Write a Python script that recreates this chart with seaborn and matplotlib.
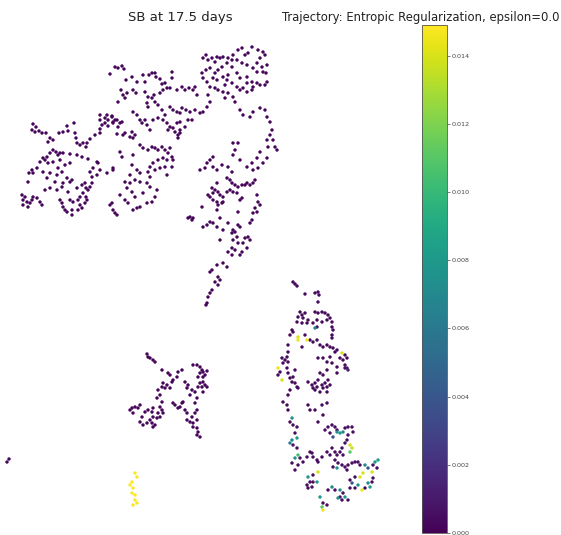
import matplotlib
matplotlib.use("Agg")
import matplotlib.pyplot as plt
import seaborn as sns
import pandas as pd
import numpy as np
from matplotlib.colors import Normalize
from matplotlib.cm import ScalarMappable

sns.set_style("white")
plt.rcParams['font.family'] = ['DejaVu Sans']

TITLE = "SB at 17.5 days"
CBAR_TITLE = "Trajectory: Entropic Regularization, epsilon=0.0"
CBAR_TICKS = [0.000, 0.002, 0.004, 0.006, 0.008, 0.010, 0.012, 0.014]
VMIN, VMAX = 0.0, 0.0149

# embedding coordinates (image-pixel units, y downward)
upper_left_xy = [
    (33,124),(36,127),(32,130),(35,132),(39,131),(42,133),(46,133),(50,138),(48,142),(53,140),
    (59,133),(63,132),(67,126),(68,131),(74,123),(75,133),(76,138),(77,143),(80,145),(83,143),
    (86,147),(87,143),(90,139),(95,135),(100,133),(100,129),(102,125),(105,123),(108,126),(113,123),
    (115,120),(112,116),(107,115),(100,115),(118,127),(122,122),(117,134),(125,133),
    (53,150),(50,153),(56,152),(58,155),(60,153),(63,153),(70,154),(77,155),(82,157),(88,159),(98,163),
    (40,162),(43,158),(45,160),(47,157),(48,163),(53,162),(60,160),(65,165),(70,163),(58,168),
    (62,172),(57,175),(50,173),(43,172),(37,168),(32,170),(29,173),(33,173),(28,182),
    (67,178),(70,182),(72,180),(63,183),(55,182),(47,178),(45,190),(50,188),(57,190),(62,187),
    (68,192),(77,188),(82,185),(85,183),(86,188),(88,190),(90,187),(92,183),(83,193),(80,197),
    (90,172),(93,168),(92,177),(97,175),(100,170),(113,170),(97,162),
    (22,195),(25,197),(23,200),(27,202),(23,205),(28,207),(30,203),(32,200),(33,197),(37,198),
    (40,202),(42,205),(60,200),(62,203),(63,207),(65,210),(67,212),(72,215),(70,200),(73,202),
    (78,200),(80,205),(78,210),(82,208),(72,210),(86,197),(87,200),(85,203),
]

upper_mid_xy = [
    (115,67),(118,68),(122,66),(124,69),(110,74),
    (126,80),(132,77),(137,82),(143,75),(145,82),(149,75),(152,73),(155,73),(156,77),(160,79),
    (162,84),(165,83),(167,88),(172,72),(172,78),
    (121,90),(123,95),(125,98),(127,93),(118,102),
    (133,90),(136,93),(145,92),(148,97),(152,98),(154,95),(160,93),(163,90),(170,88),(177,90),
    (182,87),(185,90),(189,88),(193,90),(197,95),(195,87),
    (147,103),(148,107),(155,102),(158,105),(162,110),(165,115),(170,107),(173,110),(177,112),
    (180,113),(182,108),(186,110),(190,112),(195,110),(200,113),(203,112),(207,107),(210,102),(208,95),
    (133,112),(137,115),(140,120),(142,123),(145,120),(147,125),(150,130),(153,120),(158,118),
    (163,120),(167,123),(170,127),(173,128),(177,123),(180,122),(185,127),(188,120),(192,120),
    (180,130),(175,132),(168,130),
    (100,120),(105,118),(108,120),(112,117),(113,122),(117,120),(120,123),
    (123,135),(130,137),(133,138),(135,135),(132,132),(140,145),(143,148),(148,150),(152,147),
    (155,148),(158,150),(162,147),(165,150),(168,153),(170,148),(172,157),(167,160),(163,158),
    (158,160),(153,163),(150,167),(155,170),(160,168),(165,167),(172,167),(173,160),(178,135),
    (178,138),(180,133),
    (120,152),(122,157),(133,155),(132,165),(137,170),(113,168),(107,173),(130,175),(140,173),
    (150,177),(167,175),(148,172),
    (110,205),(113,210),(115,213),(120,195),(125,200),(128,203),(133,210),(137,208),(140,207),
    (147,203),(152,202),(155,197),(157,190),(150,187),(147,183),(143,193),(135,197),(132,192),
    (127,188),(130,183),(135,180),(140,182),(125,182),(112,203),(117,215),
]

upper_right_xy = [
    (203,58),(206,55),(208,60),(212,58),(215,62),(217,57),(220,58),(223,57),(228,58),(232,60),
    (233,55),(238,50),(242,48),(245,55),(248,53),(252,47),(258,50),(263,52),(265,55),(260,58),
    (257,63),(262,67),(267,65),(266,73),(263,72),(257,72),(253,68),(247,65),(242,63),(237,60),
    (232,67),(227,63),(222,67),(218,70),(215,73),(210,68),(206,70),(202,73),(203,78),(207,82),
    (213,78),(217,80),(223,77),(228,75),(227,80),(225,85),(232,83),(237,87),(240,90),(243,88),
    (247,92),(252,90),(253,87),(257,83),(260,85),(265,85),(267,82),(237,73),(240,78),(247,77),
    (252,82),(247,83),(210,87),(215,88),(218,90),(223,92),(228,93),(233,97),(235,102),(225,98),
    (240,110),(243,115),(250,117),(253,112),(260,108),(265,110),(267,117),(270,122),(272,130),
    (270,135),(273,140),(275,147),(277,150),(268,147),(267,140),(260,152),(257,158),(252,163),
    (253,170),(258,168),(263,163),(267,158),(247,167),(238,143),(233,143),(235,150),(233,155),
    (240,160),(213,157),(210,160),(207,163),(205,168),(200,170),(213,167),(217,170),(222,165),
    (228,167),(232,172),
    (227,178),(230,180),(232,183),(235,185),(238,187),(242,185),(245,185),(247,183),(250,185),
    (253,183),(255,180),(217,183),(212,188),(208,195),(210,197),(213,193),(215,190),(218,192),
    (220,195),(223,197),(227,192),(230,190),(233,192),(237,193),(242,198),(240,200),(202,207),
    (213,200),(217,202),(218,205),(222,203),(223,202),(217,210),(257,195),(258,202),(260,205),
    (255,208),(257,212),(253,213),(252,220),(250,223),(238,212),(190,217),(192,220),(188,218),
    (193,218),(203,227),(207,225),(210,222),(213,223),(217,227),(220,218),(223,230),(228,223),
    (233,230),(232,233),(235,232),(237,237),(238,225),(240,227),(233,240),(238,243),(243,243),
    (245,238),(248,237),(250,240),(247,248),(242,252),(240,255),(235,250),(232,248),(228,252),
    (232,255),(220,240),(217,265),(223,263),(227,267),(212,270),(210,272),(218,277),(220,280),
    (215,282),(218,285),(212,290),(210,293),(208,297),(207,303),(206,305),
]

lower_left_xy = [
    (147,354),(148,357),(150,358),(153,360),(155,362),(162,370),(168,373),(170,375),(182,370),
    (178,372),(177,377),(173,380),(163,383),(162,387),(165,388),(167,385),(170,388),(172,382),
    (160,395),(158,390),(157,398),(162,402),(160,407),(162,410),(163,413),(158,413),(153,408),
    (152,412),(148,410),(145,412),(140,405),(138,408),(135,407),(132,408),(130,410),(133,413),
    (142,417),(140,422),(143,425),(147,423),(152,423),(153,427),(155,425),(150,420),(153,417),
    (157,418),(160,417),(173,403),(175,405),(180,407),(178,408),(182,403),(183,402),(185,410),
    (187,413),(187,420),(190,422),(193,423),(197,420),(193,427),(197,428),(198,432),(197,435),
    (200,437),(192,417),(195,413),(197,410),(195,403),(197,398),(195,392),(192,390),(190,395),
    (187,388),(185,382),(188,385),(193,365),(197,365),(200,367),(202,370),(200,373),(198,377),
    (203,372),(205,375),(207,371),(203,382),(205,385),(207,387),(202,387),(198,387),(200,383),
    (203,392),(203,377),
]

isolated_xy = [(7,462),(9,459)]
UNIFORM_LOW_VALUE = 0.0002

yellow_group_xy = [(135,473),(137,477),(132,482),(130,485),(133,488),(132,493),(135,495),
                   (135,500),(137,503),(133,505)]
YELLOW_GROUP_VALUE = 0.0148

# mixed cluster: (x, y, value)
lower_right_xyv = [
    (293,282,0.0004),(295,284,0.0004),(297,286,0.0004),(305,294,0.0004),(315,293,0.0004),
    (318,292,0.0004),(319,295,0.0004),(318,302,0.0004),(300,312,0.0004),(302,315,0.0004),
    (305,313,0.0004),(298,317,0.0004),(303,318,0.0004),(308,320,0.0004),(307,323,0.0004),
    (302,323,0.0004),(297,322,0.0004),(315,312,0.0004),(318,313,0.0004),(322,312,0.0004),
    (325,313,0.0004),(328,315,0.0004),(330,318,0.0004),(332,322,0.0004),(327,320,0.0004),
    (322,322,0.0004),(317,320,0.0004),(313,323,0.0005),(315,328,0.0070),(317,327,0.0005),
    (332,327,0.0004),(333,330,0.0004),(332,335,0.0004),(332,338,0.0004),(292,330,0.0004),
    (290,335,0.0004),(293,332,0.0004),(298,337,0.0140),(305,335,0.0005),(307,340,0.0145),
    (310,340,0.0005),(313,342,0.0004),(317,340,0.0004),(298,340,0.0145),(288,345,0.0004),
    (302,347,0.0005),(320,345,0.0004),(323,347,0.0004),(327,345,0.0004),(330,347,0.0004),
    (333,348,0.0004),(335,352,0.0004),(337,350,0.0004),(342,353,0.0140),(345,355,0.0004),
    (340,358,0.0004),(343,360,0.0004),(347,358,0.0004),(345,365,0.0005),(347,368,0.0010),
    (348,370,0.0015),(345,368,0.0004),(337,367,0.0004),(337,373,0.0004),(330,357,0.0004),
    (327,362,0.0004),(323,358,0.0004),(318,358,0.0004),(332,363,0.0004),(327,370,0.0004),
    (320,373,0.0004),(323,375,0.0004),(288,352,0.0004),(287,357,0.0005),(285,360,0.0004),
    (288,362,0.0004),(282,358,0.0004),(283,363,0.0004),(278,368,0.0145),(280,372,0.0004),
    (278,375,0.0004),(282,380,0.0140),(287,368,0.0004),(288,373,0.0004),(290,378,0.0004),
    (293,377,0.0004),(292,382,0.0004),(295,383,0.0004),(297,387,0.0004),(298,388,0.0004),
    (290,390,0.0004),(295,370,0.0004),(308,382,0.0004),(312,385,0.0004),(313,388,0.0004),
    (315,383,0.0004),(317,387,0.0004),(318,380,0.0004),(322,385,0.0004),(323,388,0.0004),
    (325,383,0.0004),(327,387,0.0004),(328,380,0.0004),(330,385,0.0004),(327,392,0.0004),
    (320,392,0.0004),(315,390,0.0004),
    (288,395,0.0004),(283,402,0.0004),(287,405,0.0004),(288,410,0.0004),(308,405,0.0004),
    (310,410,0.0004),(315,410,0.0004),(322,405,0.0004),(327,403,0.0004),(323,415,0.0004),
    (318,422,0.0004),(292,418,0.0075),(290,422,0.0005),(293,425,0.0005),(297,427,0.0005),
    (295,433,0.0005),(297,438,0.0080),(292,440,0.0070),(290,443,0.0065),(293,445,0.0008),
    (297,448,0.0005),(298,455,0.0105),(295,458,0.0075),(300,458,0.0008),(292,463,0.0005),
    (298,465,0.0005),(295,470,0.0005),(303,462,0.0005),(307,457,0.0005),(310,452,0.0005),
    (312,453,0.0005),(313,457,0.0005),(317,460,0.0005),(318,462,0.0005),(322,457,0.0005),
    (327,452,0.0005),(330,455,0.0005),(332,448,0.0005),(335,452,0.0005),(325,430,0.0005),
    (328,427,0.0005),(332,425,0.0005),(335,427,0.0005),(337,430,0.0005),(330,433,0.0005),
    (333,437,0.0040),(337,432,0.0075),(340,433,0.0080),(343,432,0.0070),(345,428,0.0005),
    (348,427,0.0005),(352,427,0.0005),(353,432,0.0005),(348,435,0.0005),(347,440,0.0005),
    (345,443,0.0005),(350,445,0.0140),(352,448,0.0135),(350,452,0.0110),(342,448,0.0005),
    (340,452,0.0005),(343,455,0.0005),(337,455,0.0005),(335,460,0.0005),(338,463,0.0005),
    (333,467,0.0005),(337,468,0.0075),(342,465,0.0005),(345,467,0.0008),(347,470,0.0005),
    (348,465,0.0005),(352,463,0.0005),(355,462,0.0005),(358,462,0.0005),(360,465,0.0005),
    (365,465,0.0070),(368,468,0.0040),(372,472,0.0140),(373,465,0.0005),(375,462,0.0080),
    (378,460,0.0085),(377,468,0.0005),(363,473,0.0140),(360,477,0.0140),(355,477,0.0005),
    (350,480,0.0005),(352,483,0.0040),(350,488,0.0005),(355,488,0.0005),(358,485,0.0075),
    (362,490,0.0145),(365,488,0.0005),(370,487,0.0080),(372,482,0.0005),(373,478,0.0005),
    (368,483,0.0070),(318,472,0.0140),(313,475,0.0005),(308,477,0.0075),(310,482,0.0005),
    (313,482,0.0005),(317,482,0.0080),(307,485,0.0005),(308,488,0.0005),(312,487,0.0005),
    (320,497,0.0080),(328,490,0.0005),(332,487,0.0070),(335,490,0.0005),(340,490,0.0075),
    (343,493,0.0005),(345,497,0.0080),(348,500,0.0005),(342,500,0.0005),(338,498,0.0075),
    (323,503,0.0005),(327,505,0.0005),(322,507,0.0110),(323,510,0.0145),(340,497,0.0005),
]

# ---- assemble table ----
rows = []
for grp in (upper_left_xy, upper_mid_xy, upper_right_xy, lower_left_xy, isolated_xy):
    for x, y in grp:
        rows.append((x, y, UNIFORM_LOW_VALUE))
for x, y in yellow_group_xy:
    rows.append((x, y, YELLOW_GROUP_VALUE))
for x, y, v in lower_right_xyv:
    rows.append((x, y, v))
df = pd.DataFrame(rows, columns=["x", "y", "value"]).sort_values("value", kind="stable")

W, H = 561, 535
fig = plt.figure(figsize=(W / 100, H / 100), dpi=100)
fig.patch.set_facecolor("white")

ax = fig.add_axes([0, 0, 1, 1])
sns.scatterplot(data=df, x="x", y="y", hue="value", palette="viridis",
                hue_norm=(VMIN, VMAX), s=6, linewidth=0, legend=False, ax=ax)
ax.set_xlim(0, W)
ax.set_ylim(H, 0)
ax.set_axis_off()

fig.text(180 / W, 1 - 17 / H, TITLE, ha="center", va="center",
         fontsize=9.5, color="#222222")

cax = fig.add_axes([422 / W, (H - 533) / H, 25 / W, 508 / H])
sm = ScalarMappable(norm=Normalize(VMIN, VMAX), cmap="viridis")
cb = fig.colorbar(sm, cax=cax)
cb.set_ticks(CBAR_TICKS)
cb.set_ticklabels([f"{t:.3f}" for t in CBAR_TICKS])
cax.tick_params(labelsize=4.6, length=2, width=0.5, colors="#444444", pad=1.5)
cb.outline.set_linewidth(0.6)
cb.outline.set_edgecolor("#555555")

fig.text(282 / W, 1 - 17 / H, CBAR_TITLE, ha="left", va="center",
         fontsize=8.4, color="#222222")

fig.savefig("out.png", dpi=100, facecolor="white")
